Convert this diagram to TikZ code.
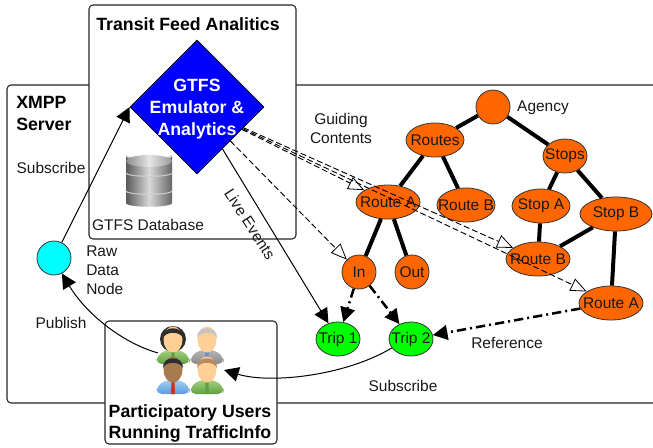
\documentclass[tikz,border=0pt]{standalone}
\usepackage{fontspec}
\setmainfont{Liberation Sans}
\usetikzlibrary{shapes.geometric,arrows.meta}
\definecolor{treeorange}{HTML}{FF6600}
\definecolor{tripgreen}{HTML}{00FF00}
\definecolor{rawcyan}{HTML}{00FFFF}
\definecolor{emublue}{HTML}{0000FF}
\definecolor{skinlight}{HTML}{FFCF95}
\definecolor{skindark}{HTML}{A87A50}
\definecolor{hairgray}{HTML}{C4C4C4}
\definecolor{hairblack}{HTML}{2E2E2E}
\definecolor{hairbrown}{HTML}{B98A5E}
\definecolor{bodygrayA}{HTML}{B5B5B5}
\definecolor{bodygrayB}{HTML}{8A8A8A}
\definecolor{bodygreenA}{HTML}{A5D080}
\definecolor{bodygreenB}{HTML}{5FA040}
\definecolor{bodyblueA}{HTML}{A6CFF5}
\definecolor{bodyblueB}{HTML}{5C9BDD}
\definecolor{tiered}{HTML}{C8322A}
\definecolor{tieblue}{HTML}{5C8FD0}
\newcommand{\zw}[1]{\makebox[0pt][c]{#1}}
\newcommand{\drawperson}[7]{%
  % cx, top, body light, body dark, skin, hair, tie
  \begin{scope}[shift={(#1,#2)}]
    \shade[top color=#3,bottom color=#4,rounded corners=4pt]
      (-16.5,37) -- (-16.5,30) -- (-8,23) -- (8,23) -- (16.5,30) -- (16.5,37) -- cycle;
    \fill[#7] (-1.5,25) -- (1.5,25) -- (2,37) -- (-2,37) -- cycle;
    \fill[#5] (0,12.5) ellipse (9.5 and 13);
    \fill[#6] (-10,11) .. controls (-11,-2) and (11,-2) .. (10,11)
       .. controls (7,4) and (-7,4) .. (-10,11) -- cycle;
  \end{scope}}
\tikzset{
  x=0.75pt,y=-0.75pt,
  every node/.style={font=\fontsize{11.6}{13}\selectfont,inner sep=0pt,text=black!90},
  boldtext/.style={font=\fontsize{13.3}{16}\bfseries\selectfont,text=black},
  panel/.style={draw=black!85,line width=.8pt,rounded corners=3pt,fill=white},
  treenode/.style={ellipse,draw=black!80,line width=.6pt,fill=#1,minimum height=25.5pt},
  wd/.style={minimum width=#1*0.75pt},
  treeedge/.style={line width=3pt,black},
  solidarrow/.style={line width=.75pt,-{Triangle[length=11pt,width=11pt]}},
  hollowarrow/.style={line width=.7pt,dash pattern=on 4.5pt off 2.2pt,
     -{Triangle[open,fill=white,length=12pt,width=10pt,line width=.6pt]}},
  refarrow/.style={line width=1.9pt,dash pattern=on 7pt off 3pt on 1.5pt off 3pt,
     -{Triangle[length=11pt,width=11pt]}},
}
\begin{document}
\begin{tikzpicture}
\useasboundingbox (0,0) rectangle (653,447);
\fill[white] (0,0) rectangle (653,447);

% XMPP server frame (open on the right)
\draw[panel,fill=none] (653,85) -- (7,85) -- (7,403) -- (653,403);
\node[boldtext,anchor=west,align=left] (xmpp) at (16,113.5) {XMPP\\Server};

% Transit feed box
\node[panel,rectangle,minimum width=155.25pt,minimum height=175.5pt] (transit) at (192.5,122) {};
\node[boldtext] (transittitle) at (188,24) {Transit Feed Analitics};
\node (gtfsdb) at (148,225) {GTFS Database};

% Database cylinder
\begin{scope}
  \foreach \ya/\yb in {190/203,172/190,155/172}{
    \shade[left color=black!65,right color=black!60,middle color=black!15]
      (126,\ya) -- (126,\yb) .. controls (126,\yb+5) and (172,\yb+5) .. (172,\yb)
      -- (172,\ya) .. controls (172,\ya+5) and (126,\ya+5) .. (126,\ya) -- cycle;
    \draw[black!20,line width=1pt] (126,\ya+.5) .. controls (126,\ya+5.5) and (172,\ya+5.5) .. (172,\ya+.5);
  }
  \shade[left color=black!45,right color=black!40,middle color=black!10]
     (149,161) ellipse (23 and 6);
\end{scope}

% Diamond
\node[diamond,aspect=1,draw=black,line width=.5pt,fill=emublue,minimum width=100.5pt,minimum height=100.5pt] (diamond) at (197,107) {};
\node[font=\fontsize{13.3}{16.5}\bfseries\selectfont,text=white,align=center] (diamondtext) at (197,109.5) {GTFS\\Emulator \&\\Analytics};

% Participatory users box
\node[panel,rectangle,minimum width=129pt,minimum height=92.25pt] (partbox) at (191,382.5) {};
\node[boldtext,align=center] (parttitle) at (190,423.5) {Participatory Users\\Running TrafficInfo};
\node[minimum width=50pt,minimum height=50pt] (users) at (190,360) {};
\coordinate (userspub) at (158,353);
\coordinate (userssub) at (224,370);

% People
\drawperson{207}{327}{bodygrayA}{bodygrayB}{skinlight}{hairgray}{tieblue}
\fill[hairblack] (173,339) ellipse (13 and 13);
\drawperson{173}{327}{bodygreenA}{bodygreenB}{skinlight}{hairblack}{bodygreenB}
\drawperson{207}{357}{bodygreenA}{bodygreenB}{skinlight}{hairbrown}{bodygreenB}
\drawperson{173}{357}{bodyblueA}{bodyblueB}{skindark}{hairblack}{tiered}

% Raw data node
\node[treenode=rawcyan,wd=34] (raw) at (54,258) {};

% Tree nodes
\node[treenode=treeorange,wd=34] (agency) at (493,107) {};
\node[treenode=treeorange,wd=58] (routes) at (435,140) {\zw{Routes}};
\node[treenode=treeorange,wd=44] (stops) at (565,156) {\zw{Stops}};
\node[treenode=treeorange,wd=64] (routea) at (388,202) {\zw{Route A}};
\node[treenode=treeorange,wd=58] (routeb) at (466,205) {\zw{Route B}};
\node[treenode=treeorange,wd=58] (stopa) at (541,206) {\zw{Stop A}};
\node[treenode=treeorange,wd=72] (stopb) at (616,214) {\zw{Stop B}};
\node[treenode=treeorange,wd=64] (routebb) at (538,259) {\zw{Route B}};
\node[treenode=treeorange,wd=34] (in) at (359,272) {\zw{In}};
\node[treenode=treeorange,wd=34] (out) at (412,272) {\zw{Out}};
\node[treenode=treeorange,wd=64] (routeaa) at (611,303) {\zw{Route A}};
\node[treenode=tripgreen,wd=44] (trip1) at (338,339) {\zw{Trip 1}};
\node[treenode=tripgreen,wd=44] (trip2) at (411,339) {\zw{Trip 2}};

% Tree edges
\begin{scope}[treeedge]
  \draw (agency) -- (routes);
  \draw (agency) -- (stops);
  \draw (routes) -- (routea);
  \draw (routes) -- (routeb);
  \draw (routea) -- (in);
  \draw (routea) -- (out);
  \draw (stops) -- (stopa);
  \draw (stops) -- (stopb);
  \draw (stopa) -- (routebb);
  \draw (stopb) -- (routebb);
  \draw (stopb) -- (routeaa);
\end{scope}

% Connectors
\draw[solidarrow] (raw) -- (diamond.west);
\draw[solidarrow] (userspub) .. controls (120,342) and (85,312) .. (raw.-63);
\draw[solidarrow] (trip2.205) .. controls (345,376) and (270,384) .. (userssub);
\draw[solidarrow] (diamond) -- (trip1);
\draw[hollowarrow] (diamond) -- (in);
\draw[hollowarrow] (diamond) -- (routea);
\draw[hollowarrow] (diamond) -- (routebb);
\draw[hollowarrow] (diamond) -- (routeaa);
\draw[refarrow] (in) -- (trip1);
\draw[refarrow] (in) -- (trip2);
\draw[refarrow] (routeaa) -- (trip2);

% Labels
\node (lsub) at (51,168) {Subscribe};
\node[align=left,anchor=west,font=\fontsize{11.6}{14.3}\selectfont] (lraw) at (86,270) {Raw\\Data\\Node};
\node (lpub) at (61,323) {Publish};
\node[align=center,font=\fontsize{11.6}{14.3}\selectfont] (lguide) at (341,128.5) {Guiding\\Contents};
\node (lagency) at (543,108) {Agency};
\node[rotate=-57] (llive) at (250,224) {Live Events};
\node (lref) at (507,343) {Reference};
\node (lsub2) at (403,386) {Subscribe};
\end{tikzpicture}
\end{document}
